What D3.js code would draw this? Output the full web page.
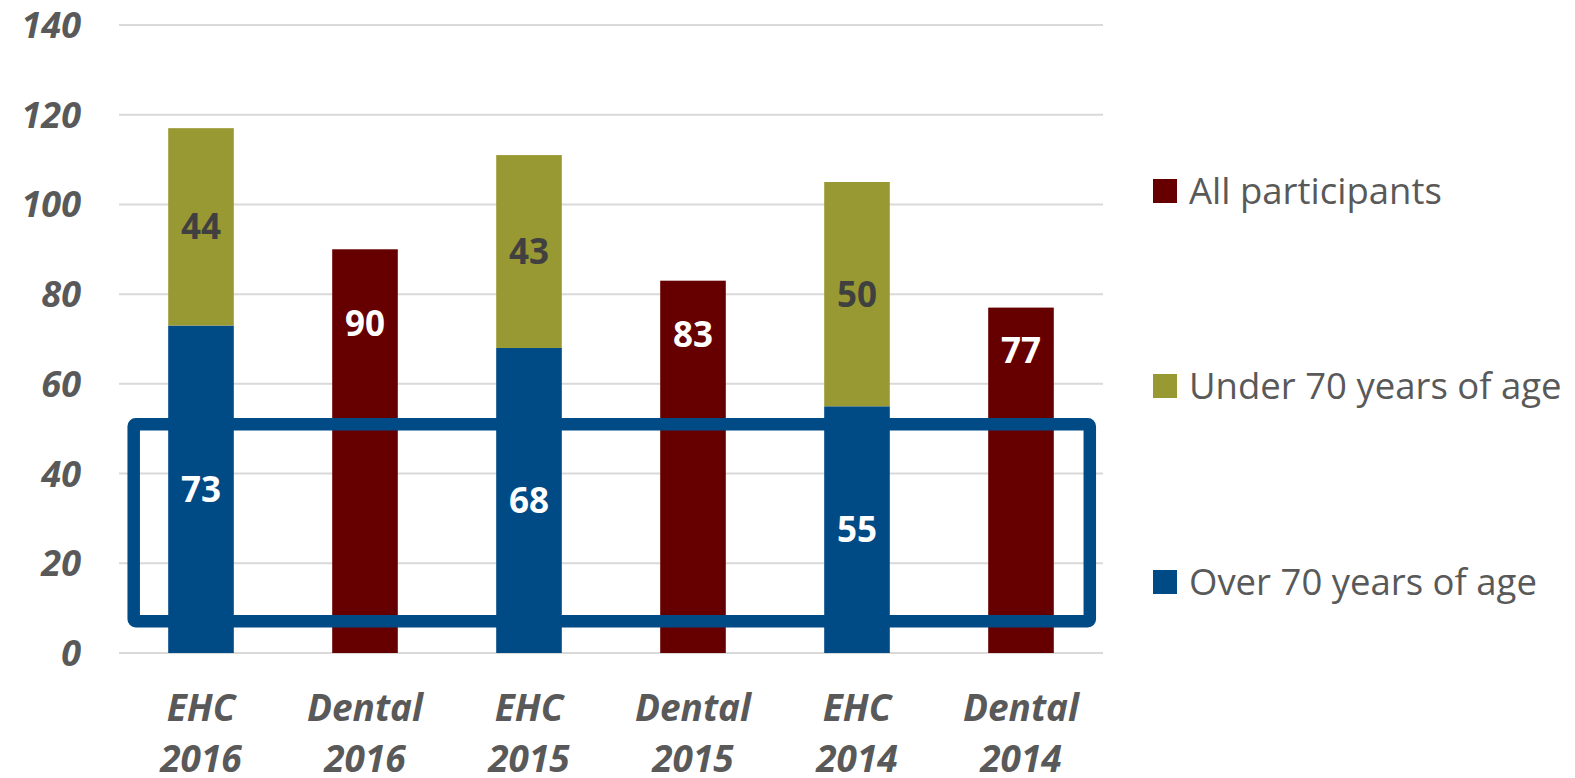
<!DOCTYPE html>
<meta charset="utf-8">
<head>
  <style>
    body { margin: 0; background: #fff; }
    .axis text { font-family: "Open Sans", sans-serif; font-weight: bold; font-style: italic; fill: #595959; }
    .legend text { font-family: "Open Sans", sans-serif; fill: #595959; }
  </style>
</head>
<body>
  <script src="https://d3js.org/d3.v7.min.js"></script>
  <script>
    // data
    var categories = ["EHC 2016", "Dental 2016", "EHC 2015", "Dental 2015", "EHC 2014", "Dental 2014"];
    var over70 = [73, 0, 68, 0, 55, 0];
    var under70 = [44, 0, 43, 0, 50, 0];
    var allParticipants = [0, 90, 0, 83, 0, 77];
    // where the dental labels sit (in axis units)
    var allLabelAt = [0, 73.5, 0, 71, 0, 67.5];
    var yTicks = [0, 20, 40, 60, 80, 100, 120, 140];
    var legendLabels = ["All participants", "Under 70 years of age", "Over 70 years of age"];
    var colors = { over: "#004a86", under: "#999933", all: "#660000" };

    var W = 1575, H = 778;
    var plot = { left: 119, right: 1103, top: 25, bottom: 653 };

    var svg = d3.select("body").append("svg")
      .attr("width", W)
      .attr("height", H);

    var x = d3.scaleBand()
      .domain(categories)
      .range([plot.left, plot.right])
      .paddingInner(0.6)
      .paddingOuter(0.3);

    var y = d3.scaleLinear()
      .domain([0, 140])
      .range([plot.bottom, plot.top]);

    // gridlines
    svg.append("g")
      .selectAll("line")
      .data(yTicks)
      .enter().append("line")
      .attr("x1", plot.left)
      .attr("x2", plot.right)
      .attr("y1", d => y(d))
      .attr("y2", d => y(d))
      .attr("stroke", "#d9d9d9")
      .attr("stroke-width", 2);

    // y tick labels
    svg.append("g").attr("class", "axis")
      .selectAll("text")
      .data(yTicks)
      .enter().append("text")
      .attr("x", 81)
      .attr("y", d => y(d))
      .attr("dy", "0.36em")
      .attr("text-anchor", "end")
      .style("font-size", "36px")
      .text(d => d);

    // x labels, two lines
    var xl = svg.append("g").attr("class", "axis")
      .selectAll("text")
      .data(categories)
      .enter().append("text")
      .attr("text-anchor", "middle")
      .style("font-size", "37px");
    xl.append("tspan")
      .attr("x", d => x(d) + x.bandwidth() / 2)
      .attr("y", 721)
      .text(d => d.split(" ")[0]);
    xl.append("tspan")
      .attr("x", d => x(d) + x.bandwidth() / 2)
      .attr("y", 772)
      .text(d => d.split(" ")[1]);

    var rows = categories.map(function (c, i) {
      return { cat: c, over: over70[i], under: under70[i], all: allParticipants[i], allAt: allLabelAt[i] };
    });

    // bars
    var bars = svg.append("g");
    rows.forEach(function (d) {
      if (d.over) {
        bars.append("rect")
          .attr("x", x(d.cat)).attr("width", x.bandwidth())
          .attr("y", y(d.over)).attr("height", y(0) - y(d.over))
          .attr("fill", colors.over);
        bars.append("rect")
          .attr("x", x(d.cat)).attr("width", x.bandwidth())
          .attr("y", y(d.over + d.under)).attr("height", y(d.over) - y(d.over + d.under))
          .attr("fill", colors.under);
      }
      if (d.all) {
        bars.append("rect")
          .attr("x", x(d.cat)).attr("width", x.bandwidth())
          .attr("y", y(d.all)).attr("height", y(0) - y(d.all))
          .attr("fill", colors.all);
      }
    });

    // highlight box around the lower part
    var boxTop = 51, boxBottom = 7.1;
    var boxLeft = x(categories[0]) - 34.5;
    var boxRight = x(categories[5]) + x.bandwidth() + 36;
    svg.append("rect")
      .attr("x", boxLeft)
      .attr("y", y(boxTop))
      .attr("width", boxRight - boxLeft)
      .attr("height", y(boxBottom) - y(boxTop))
      .attr("fill", "none")
      .attr("stroke", colors.over)
      .attr("stroke-width", 12.5)
      .attr("rx", 2);

    // value labels
    var labels = svg.append("g")
      .attr("font-family", "'Open Sans', sans-serif")
      .attr("font-weight", "bold")
      .attr("font-size", "35px")
      .attr("text-anchor", "middle");
    rows.forEach(function (d) {
      var cx = x(d.cat) + x.bandwidth() / 2;
      if (d.over) {
        labels.append("text").attr("x", cx).attr("y", y(d.over / 2)).attr("dy", "0.36em")
          .attr("fill", "#fff").text(d.over);
        labels.append("text").attr("x", cx).attr("y", y(d.over + d.under / 2)).attr("dy", "0.36em")
          .attr("fill", "#404040").text(d.under);
      }
      if (d.all) {
        labels.append("text").attr("x", cx).attr("y", y(d.allAt)).attr("dy", "0.36em")
          .attr("fill", "#fff").text(d.all);
      }
    });

    // legend
    var legendColors = [colors.all, colors.under, colors.over];
    var legendY = [191, 386, 582];
    var legend = svg.append("g").attr("class", "legend")
      .selectAll("g")
      .data(legendLabels)
      .enter().append("g")
      .attr("transform", (d, i) => "translate(1153," + legendY[i] + ")");
    legend.append("rect")
      .attr("x", 0).attr("y", -12)
      .attr("width", 24).attr("height", 24)
      .attr("fill", (d, i) => legendColors[i]);
    legend.append("text")
      .attr("x", 36)
      .attr("dy", "0.36em")
      .style("font-size", "36.5px")
      .text(d => d);
  </script>
</body>
